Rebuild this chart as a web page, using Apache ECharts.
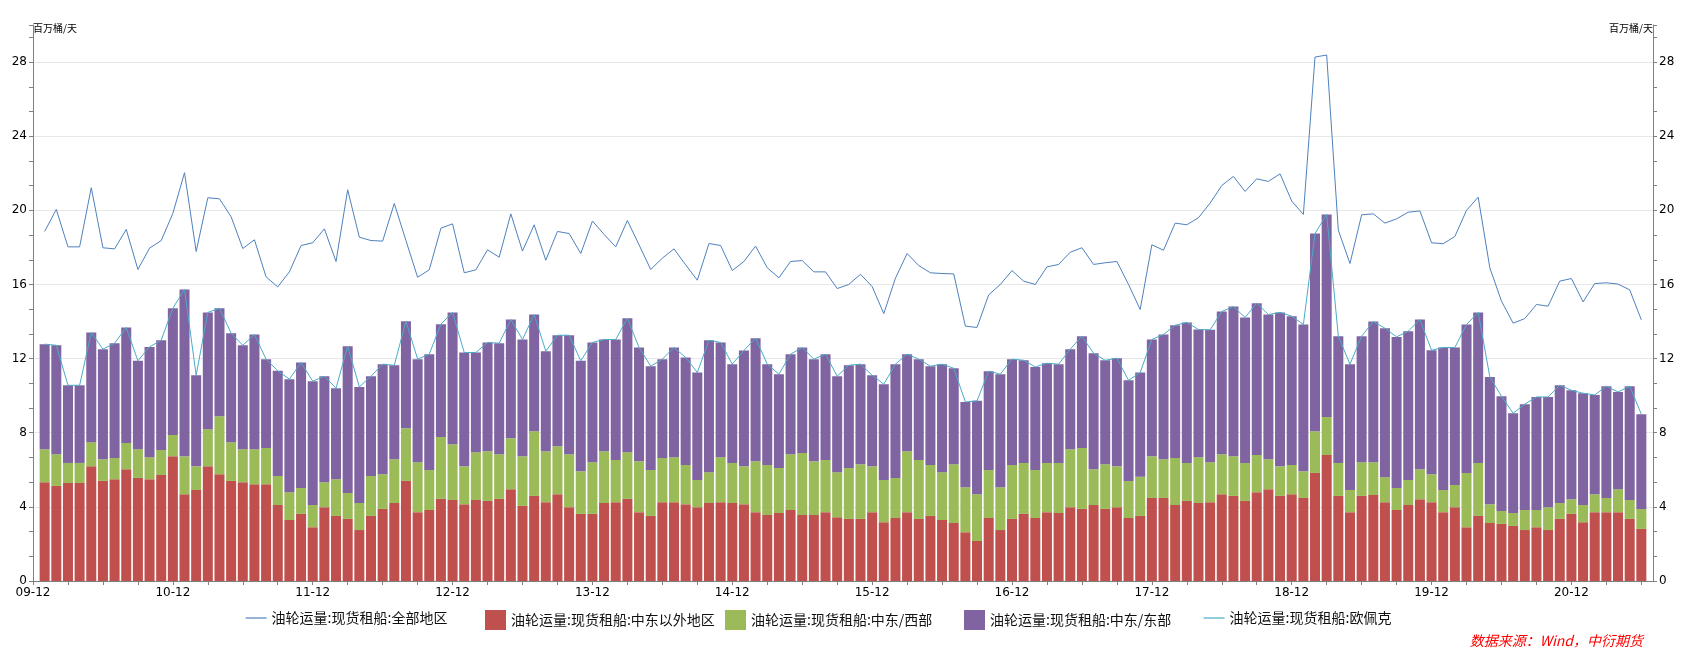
<!DOCTYPE html>
<html>
<head>
<meta charset="utf-8">
<script src="https://cdn.jsdelivr.net/npm/echarts@6/dist/echarts.min.js"></script>
<style>
html,body{margin:0;padding:0;background:#fff;}
#chart{width:1686px;height:655px;}
</style>
</head>
<body>
<div id="chart"></div>
<script>
// Monthly data 2010-01 .. 2021-06 (百万桶/天)
var nonME = [5.33,5.13,5.29,5.29,6.19,5.40,5.49,6.03,5.56,5.49,5.72,6.73,
4.68,4.91,6.19,5.76,5.40,5.33,5.22,5.22,4.10,3.29,3.62,2.90,
3.98,3.51,3.35,2.75,3.51,3.89,4.21,5.40,3.71,3.83,4.43,4.37,
4.14,4.37,4.32,4.43,4.95,4.05,4.59,4.25,4.68,3.98,3.62,3.62,
4.21,4.25,4.43,3.71,3.51,4.25,4.25,4.14,3.98,4.21,4.25,4.21,
4.14,3.71,3.56,3.67,3.83,3.56,3.56,3.71,3.44,3.35,3.35,3.71,
3.17,3.40,3.71,3.35,3.51,3.29,3.13,2.63,2.16,3.40,2.75,3.35,
3.62,3.40,3.71,3.67,3.98,3.89,4.10,3.89,3.98,3.40,3.51,4.48,
4.48,4.10,4.32,4.21,4.25,4.68,4.59,4.32,4.79,4.95,4.59,4.68,
4.48,5.83,6.80,4.59,3.71,4.59,4.64,4.25,3.83,4.10,4.41,4.25,
3.71,3.98,2.90,3.51,3.13,3.08,2.97,2.75,2.90,2.75,3.35,3.62,
3.17,3.71,3.71,3.71,3.35,2.81];

var meWest = [1.78,1.71,1.08,1.08,1.30,1.17,1.15,1.42,1.55,1.19,1.35,1.15,
2.05,1.28,2.00,3.13,2.09,1.78,1.89,1.96,1.57,1.50,1.40,1.20,
1.35,1.98,1.40,1.46,2.16,1.87,2.36,2.84,2.70,2.16,3.34,3.01,
2.05,2.58,2.68,2.41,2.75,2.68,3.49,2.75,2.59,2.86,2.30,2.79,
2.79,2.28,2.52,2.75,2.48,2.39,2.43,2.12,1.47,1.66,2.43,2.16,
2.05,2.75,2.70,2.43,3.01,3.35,2.90,2.82,2.43,2.75,2.95,2.48,
2.28,2.16,3.29,3.18,2.75,2.58,3.17,2.43,2.52,2.59,2.31,2.91,
2.75,2.59,2.66,2.70,3.13,3.29,1.93,2.41,2.21,2.00,2.12,2.25,
2.09,2.54,2.05,2.47,2.16,2.16,2.14,2.05,2.01,1.62,1.60,1.58,
1.44,2.25,2.05,1.78,1.20,1.82,1.77,1.35,1.19,1.35,1.62,1.51,
1.20,1.20,2.93,2.86,1.01,0.70,0.70,1.08,0.93,1.23,0.86,0.79,
0.93,0.97,0.77,1.24,1.02,1.08];

var meEast = [5.67,5.88,4.19,4.19,5.92,5.94,6.19,6.23,4.77,5.95,5.92,6.84,
9.00,4.91,6.30,5.83,5.88,5.61,6.19,4.79,5.67,6.10,6.77,6.68,
5.72,4.91,7.92,6.26,5.38,5.94,5.07,5.78,5.56,6.25,6.09,7.11,
6.14,5.38,5.87,5.99,6.41,6.30,6.30,5.40,5.99,6.42,5.96,6.46,
6.03,6.50,7.23,6.14,5.60,5.33,5.92,5.80,5.80,7.12,6.19,5.33,
6.25,6.64,5.44,5.06,5.40,5.69,5.51,5.71,5.18,5.54,5.40,4.91,
5.17,6.14,5.24,5.44,5.33,5.83,5.18,4.60,5.04,5.33,6.10,5.71,
5.54,5.56,5.38,5.33,5.40,6.03,6.26,5.61,5.83,5.43,5.62,6.30,
6.73,7.16,7.58,6.89,7.14,7.70,8.08,7.85,8.19,7.81,8.30,8.03,
7.92,10.67,10.93,6.84,6.79,6.80,7.59,8.04,8.15,8.03,8.08,6.69,
7.69,7.42,8.01,8.12,6.87,6.19,5.38,5.71,6.10,5.95,6.35,5.88,
6.03,5.36,6.03,5.25,6.14,5.11];

var allRegions = [18.86,20.05,18.03,18.03,21.22,17.98,17.92,18.97,16.81,17.96,18.37,19.83,
22.03,17.78,20.68,20.62,19.65,17.94,18.41,16.41,15.87,16.68,18.10,18.25,
19.00,17.24,21.11,18.55,18.37,18.34,20.37,18.37,16.39,16.79,19.04,19.27,
16.63,16.79,17.87,17.47,19.81,17.80,19.22,17.31,18.86,18.75,17.67,19.42,
18.70,18.03,19.45,18.14,16.81,17.42,17.92,17.06,16.23,18.21,18.10,16.75,
17.24,18.07,16.90,16.36,17.24,17.29,16.68,16.68,15.78,16.00,16.55,15.89,
14.43,16.34,17.67,17.02,16.63,16.59,16.57,13.75,13.68,15.44,16.00,16.75,
16.18,16.00,16.95,17.08,17.74,17.98,17.08,17.17,17.24,16.00,14.65,18.14,
17.85,19.31,19.22,19.60,20.39,21.34,21.83,21.02,21.70,21.56,21.97,20.50,
19.78,28.27,28.38,18.93,17.13,19.76,19.81,19.31,19.54,19.90,19.97,18.25,
18.20,18.59,20.00,20.71,16.90,15.10,13.91,14.16,14.92,14.83,16.18,16.32,
15.06,16.05,16.09,16.02,15.71,14.09];

var opec = [12.78,12.72,10.56,10.56,13.41,12.51,12.83,13.68,11.88,12.63,12.99,14.72,
15.73,11.10,14.49,14.72,13.37,12.72,13.30,11.97,11.34,10.89,11.79,10.78,
11.05,10.40,12.67,10.47,11.05,11.70,11.64,14.02,11.97,12.24,13.86,14.49,
12.33,12.33,12.87,12.83,14.11,13.03,14.38,12.40,13.26,13.26,11.88,12.87,
13.03,13.03,14.18,12.60,11.59,11.97,12.60,12.06,11.25,12.99,12.87,11.70,
12.44,13.10,11.70,11.16,12.24,12.60,11.97,12.24,11.05,11.64,11.70,11.10,
10.62,11.70,12.24,11.97,11.59,11.70,11.48,9.66,9.72,11.32,11.16,11.97,
11.91,11.55,11.75,11.70,12.51,13.21,12.29,11.91,12.02,10.83,11.25,13.03,
13.30,13.80,13.95,13.57,13.55,14.54,14.81,14.22,14.99,14.38,14.49,14.29,
13.84,18.75,19.78,13.21,11.70,13.21,14.00,13.64,13.17,13.48,14.11,12.45,
12.60,12.60,13.84,14.49,11.01,9.97,9.05,9.54,9.93,9.93,10.56,10.29,
10.13,10.04,10.51,10.20,10.51,9.00];

var seriesNames = ['油轮运量:现货租船:全部地区','油轮运量:现货租船:中东以外地区','油轮运量:现货租船:中东/西部','油轮运量:现货租船:中东/东部','油轮运量:现货租船:欧佩克'];
var yTicks = [0,4,8,12,16,20,24,28];
var unitName = '百万桶/天';
var sourceText = '数据来源：Wind，中衍期货';

// category axis: 2009-12 .. 2021-07 (axis ends), data 2010-01 .. 2021-06
var months = [];
(function(){
  var y = 2009, m = 12;
  while (y < 2021 || (y === 2021 && m <= 7)) {
    months.push(y + '-' + (m < 10 ? '0' + m : '' + m));
    m++; if (m > 12) { m = 1; y++; }
  }
})();
function pad(arr){ return [null].concat(arr).concat([null]); }

var chart = echarts.init(document.getElementById('chart'), null, {renderer:'canvas'});
var axisGray = '#808080';
var numFont = 'DejaVu Sans';
var cjkFont = 'Noto Sans CJK SC';

function yAxisCfg(pos){
  return {
    type:'value', position: pos, min:0, max:30, interval:4,
    name: unitName, nameLocation:'end', nameGap:-3,
    nameTextStyle:{fontFamily:cjkFont, fontSize:10, color:'#000', align: pos==='left'?'left':'right', verticalAlign:'middle'},
    axisLine:{show:true, lineStyle:{color:axisGray, width:1}},
    axisTick:{show:true, inside:false, length:4, lineStyle:{color:axisGray}},
    minorTick:{show:true, splitNumber:3, length:4, lineStyle:{color:axisGray}},
    axisLabel:{fontFamily:numFont, fontSize:12, color:'#000', margin:6, showMaxLabel:false,
      formatter:function(v){ return yTicks.indexOf(v) >= 0 ? String(v) : ''; }},
    splitLine:{show: pos==='left', showMinLine:false, showMaxLine:false, lineStyle:{color:'#e8e8e8', width:1}}
  };
}

var legendLeft = [245, 485, 725, 964, 1203];
var legends = seriesNames.map(function(n, i){
  var isLine = (i === 0 || i === 4);
  var cfg = {
    data:[n], left: legendLeft[i], top: 610, padding:0, itemWidth:21, itemHeight:20, itemGap:0,
    selectedMode:false,
    textStyle:{fontFamily:cjkFont, fontSize:14, color:'#111'}
  };
  if (isLine) {
    cfg.itemStyle = {opacity:0, color:'transparent', borderColor:'transparent', borderWidth:0};
    cfg.lineStyle = {width:1.2};
  } else {
    cfg.icon = 'rect';
  }
  return cfg;
});

var option = {
  animation:false,
  backgroundColor:'#fff',
  grid:{left:33, right:33, top:25, bottom:74, containLabel:false},
  legend: legends,
  xAxis:{
    type:'category', data: months, boundaryGap:false,
    axisLine:{show:true, onZero:false, lineStyle:{color:axisGray}},
    axisTick:{show:true, length:4, interval:function(idx){ return idx % 3 === 0; }, lineStyle:{color:axisGray}},
    axisLabel:{fontFamily:numFont, fontSize:12, color:'#000', margin:6,
      interval:function(idx, val){ return val.slice(5) === '12'; },
      formatter:function(val){ return val.slice(2); }},
    splitLine:{show:false}
  },
  yAxis:[yAxisCfg('left'), yAxisCfg('right')],
  series:[
    {name:seriesNames[0], type:'line', data:pad(allRegions), symbol:'none', connectNulls:false,
      lineStyle:{color:'#4F81BD', width:1}, itemStyle:{color:'#4F81BD'}, z:3},
    {name:seriesNames[1], type:'bar', stack:'me', data:pad(nonME), barWidth:'86%',
      itemStyle:{color:'#C0504D'}},
    {name:seriesNames[2], type:'bar', stack:'me', data:pad(meWest), barWidth:'86%',
      itemStyle:{color:'#9BBB59'}},
    {name:seriesNames[3], type:'bar', stack:'me', data:pad(meEast), barWidth:'86%',
      itemStyle:{color:'#8064A2'}},
    {name:seriesNames[4], type:'line', data:pad(opec), symbol:'none', connectNulls:false,
      lineStyle:{color:'#4BACC6', width:1}, itemStyle:{color:'#4BACC6'}, z:4}
  ],
  graphic:[{
    type:'text', right: 43, top: 634,
    style:{text: sourceText, fill:'#ff0000', font:'italic 14px "Noto Sans CJK SC"'}
  }]
};
chart.setOption(option);
</script>
</body>
</html>
